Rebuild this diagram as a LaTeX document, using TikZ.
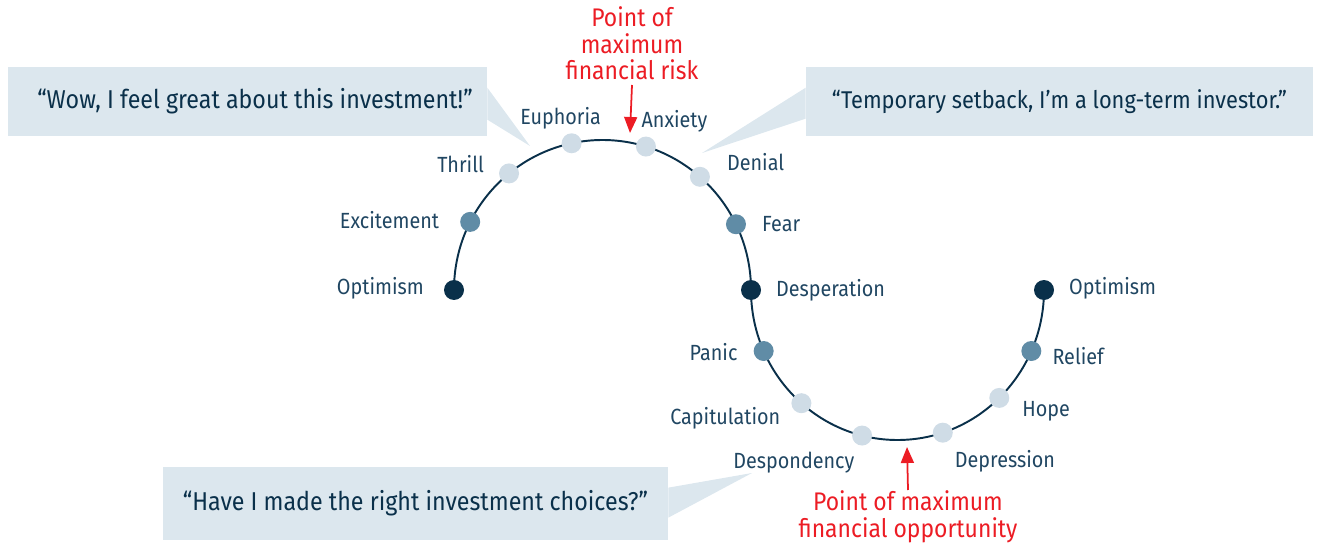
\documentclass[tikz,border=0pt]{standalone}
\usepackage{fontspec}
\setmainfont{Fira Sans}[FakeStretch=0.9]
\usetikzlibrary{arrows.meta, positioning, calc}
\definecolor{navy}{RGB}{10,48,74}
\definecolor{steel}{RGB}{96,140,166}
\definecolor{mist}{RGB}{207,220,230}
\definecolor{bubble}{RGB}{220,231,238}
\definecolor{inkblue}{RGB}{32,70,98}
\definecolor{alertred}{RGB}{236,28,36}

\begin{document}
\begin{tikzpicture}[
    x=0.02cm, y=0.02cm,
    every node/.style={font=\fontsize{12.5}{15}\selectfont},
    dot/.style={circle, fill=#1, minimum size=0.4cm, inner sep=0pt},
    lbl/.style={text=inkblue, inner sep=0pt, text height=0.7em, text depth=0pt},
    quote/.style={fill=bubble, text=navy, inner sep=0pt, minimum height=1.38cm, font=\fontsize{14.7}{17}\selectfont},
    curve/.style={navy, line width=1.1pt},
    marker/.style={-{Triangle[length=3.2mm, width=2.6mm]}, alertred, line width=1pt},
    note/.style={text=alertred, align=center, inner sep=0pt, font=\fontsize{14.5}{15.1}\selectfont}
]
\useasboundingbox (0,0) rectangle (1328,545);

% speech bubbles
\node[quote, minimum width=9.58cm] (q1) at (247.5,443.5) {\hspace*{0.3cm}``Wow, I feel great about this investment!''};
\node[quote, minimum width=10.14cm, font=\fontsize{13.8}{17}\selectfont] (q2) at (1059.5,443.5) {``Temporary setback, I'm a long-term investor.''};
\node[quote, minimum width=10.1cm, minimum height=1.46cm] (q3) at (415.5,41.5) {``Have I made the right investment choices?''};

\coordinate (tip1) at (530,399);
\coordinate (tip2) at (702,392);
\coordinate (tip3) at (752,72);
\fill[bubble] ($(q1.north east)+(0,-21)$) -- (tip1) -- ($(q1.north east)+(0,-53)$) -- cycle;
\fill[bubble] ($(q2.north west)+(0,-21)$) -- (tip2) -- ($(q2.north west)+(0,-52)$) -- cycle;
\fill[bubble] ($(q3.north east)+(0,-21)$) -- (tip3) -- ($(q3.north east)+(0,-51)$) -- cycle;

% the cycle: one arch up, one arch down
\coordinate (top) at (602.5,255);
\coordinate (low) at (897.5,255);
\draw[curve] (454,255) arc[start angle=180, end angle=0, x radius=148.5, y radius=150]
    arc[start angle=180, end angle=360, x radius=146.5, y radius=150];

\node[dot=navy]  (d1) at ($(top)+(180:148.5 and 150)$) {};
\node[dot=steel] (d2) at ($(top)+(153:148.5 and 150)$) {};
\node[dot=mist]  (d3) at ($(top)+(129:148.5 and 150)$) {};
\node[dot=mist]  (d4) at ($(top)+(102:148.5 and 150)$) {};
\node[dot=mist]  (d5) at ($(top)+(73:148.5 and 150)$) {};
\node[dot=mist]  (d6) at ($(top)+(49:148.5 and 150)$) {};
\node[dot=steel] (d7) at ($(top)+(26:148.5 and 150)$) {};
\node[dot=navy]  (d8) at ($(top)+(0:148.5 and 150)$) {};
\node[dot=steel] (d9) at ($(low)+(204:146.5 and 150)$) {};
\node[dot=mist]  (d10) at ($(low)+(229:146.5 and 150)$) {};
\node[dot=mist]  (d11) at ($(low)+(256:146.5 and 150)$) {};
\node[dot=mist]  (d12) at ($(low)+(288:146.5 and 150)$) {};
\node[dot=mist]  (d13) at ($(low)+(314:146.5 and 150)$) {};
\node[dot=steel] (d14) at ($(low)+(336:146.5 and 150)$) {};
\node[dot=navy]  (d15) at ($(low)+(360:146.5 and 150)$) {};

% emotions along the way
\node[lbl, left=0.39cm of d1, yshift=0.04cm] (optimismA) {Optimism};
\node[lbl, left=0.41cm of d2] (excitement) {Excitement};
\node[lbl, left=0.29cm of d3, yshift=0.14cm] (thrill) {Thrill};
\node[lbl, above=0.16cm of d4, xshift=-0.22cm] (euphoria) {Euphoria};
\node[lbl, above=0.16cm of d5, xshift=0.57cm] (anxiety) {Anxiety};
\node[lbl, right=0.33cm of d6, yshift=0.24cm] (denial) {Denial};
\node[lbl, right=0.31cm of d7, yshift=-0.02cm] (fear) {Fear};
\node[lbl, right=0.29cm of d8] (desperation) {Desperation};
\node[lbl, left=0.31cm of d9, yshift=-0.06cm] (panic) {Panic};
\node[lbl, left=0.21cm of d10, yshift=-0.3cm] (capitulation) {Capitulation};
\node[lbl, below left=0.26cm and 0cm of d11] (despondency) {Despondency};
\node[lbl, below right=0.30cm and 0.09cm of d12] (depression) {Depression};
\node[lbl, right=0.25cm of d13, yshift=-0.24cm] (hope) {Hope};
\node[lbl, right=0.21cm of d14, yshift=-0.14cm] (relief) {Relief};
\node[lbl, right=0.29cm of d15, yshift=0.03cm] (optimismB) {Optimism};

% risk and opportunity markers
\node[note] (risk) at (632,501.5) {Point of\\maximum\\financial risk};
\node[note] (chance) at (908,28) {Point of maximum\\financial opportunity};
\coordinate (riskpt) at (630,412);
\coordinate (chancept) at (907,98);
\draw[marker] (risk.south |- 0,460) -- (riskpt);
\draw[marker] (chance.north |- 0,55) -- (chancept);

\end{tikzpicture}
\end{document}
